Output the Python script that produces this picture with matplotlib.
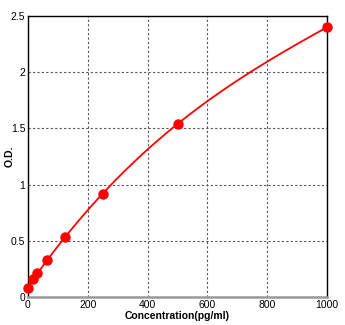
import numpy as np
import matplotlib.pyplot as plt

# standard curve data
conc = [0, 15.6, 31.25, 62.5, 125, 250, 500, 1000]
od = [0.08, 0.16, 0.21, 0.33, 0.53, 0.92, 1.54, 2.40]
x_ticks = [0, 200, 400, 600, 800, 1000]
y_ticks = [0, 0.5, 1, 1.5, 2, 2.5]
y_labels = ['0', '0.5', '1', '1.5', '2', '2.5']

plt.rcParams['font.family'] = ['Liberation Sans', 'DejaVu Sans']

fig = plt.figure(figsize=(3.45, 3.25), dpi=100)
ax = fig.add_axes([28 / 345, 1 - 297 / 325, 299 / 345, 281 / 325])

# fitted curve
coef = np.polyfit(conc, od, 3)
xs = np.linspace(0, 1000, 300)
ax.plot(xs, np.polyval(coef, xs), color='red', lw=1.3, zorder=3)
ax.plot(conc, od, 'o', color='red', ms=6.5, zorder=4, clip_on=False)

ax.set_xlim(0, 1000)
ax.set_ylim(0, 2.5)
ax.set_xticks(x_ticks)
ax.set_yticks(y_ticks)
ax.set_yticklabels(y_labels)
ax.grid(True, color='#555555', ls=(0, (2, 2)), lw=0.8)
ax.tick_params(length=0, labelsize=7.5, pad=2)
for s in ['left', 'top', 'right']:
    ax.spines[s].set_color('black')
    ax.spines[s].set_linewidth(1.0)
ax.spines['bottom'].set_color('#999999')
ax.spines['bottom'].set_linewidth(1.8)

ax.set_xlabel('Concentration(pg/ml)', fontsize=7.5, fontweight='bold', labelpad=1)
ax.set_ylabel('O.D.', fontsize=7.5, fontweight='bold')
ax.yaxis.set_label_coords(-13 / 299, 0.5)

fig.savefig('out.png', dpi=100)
